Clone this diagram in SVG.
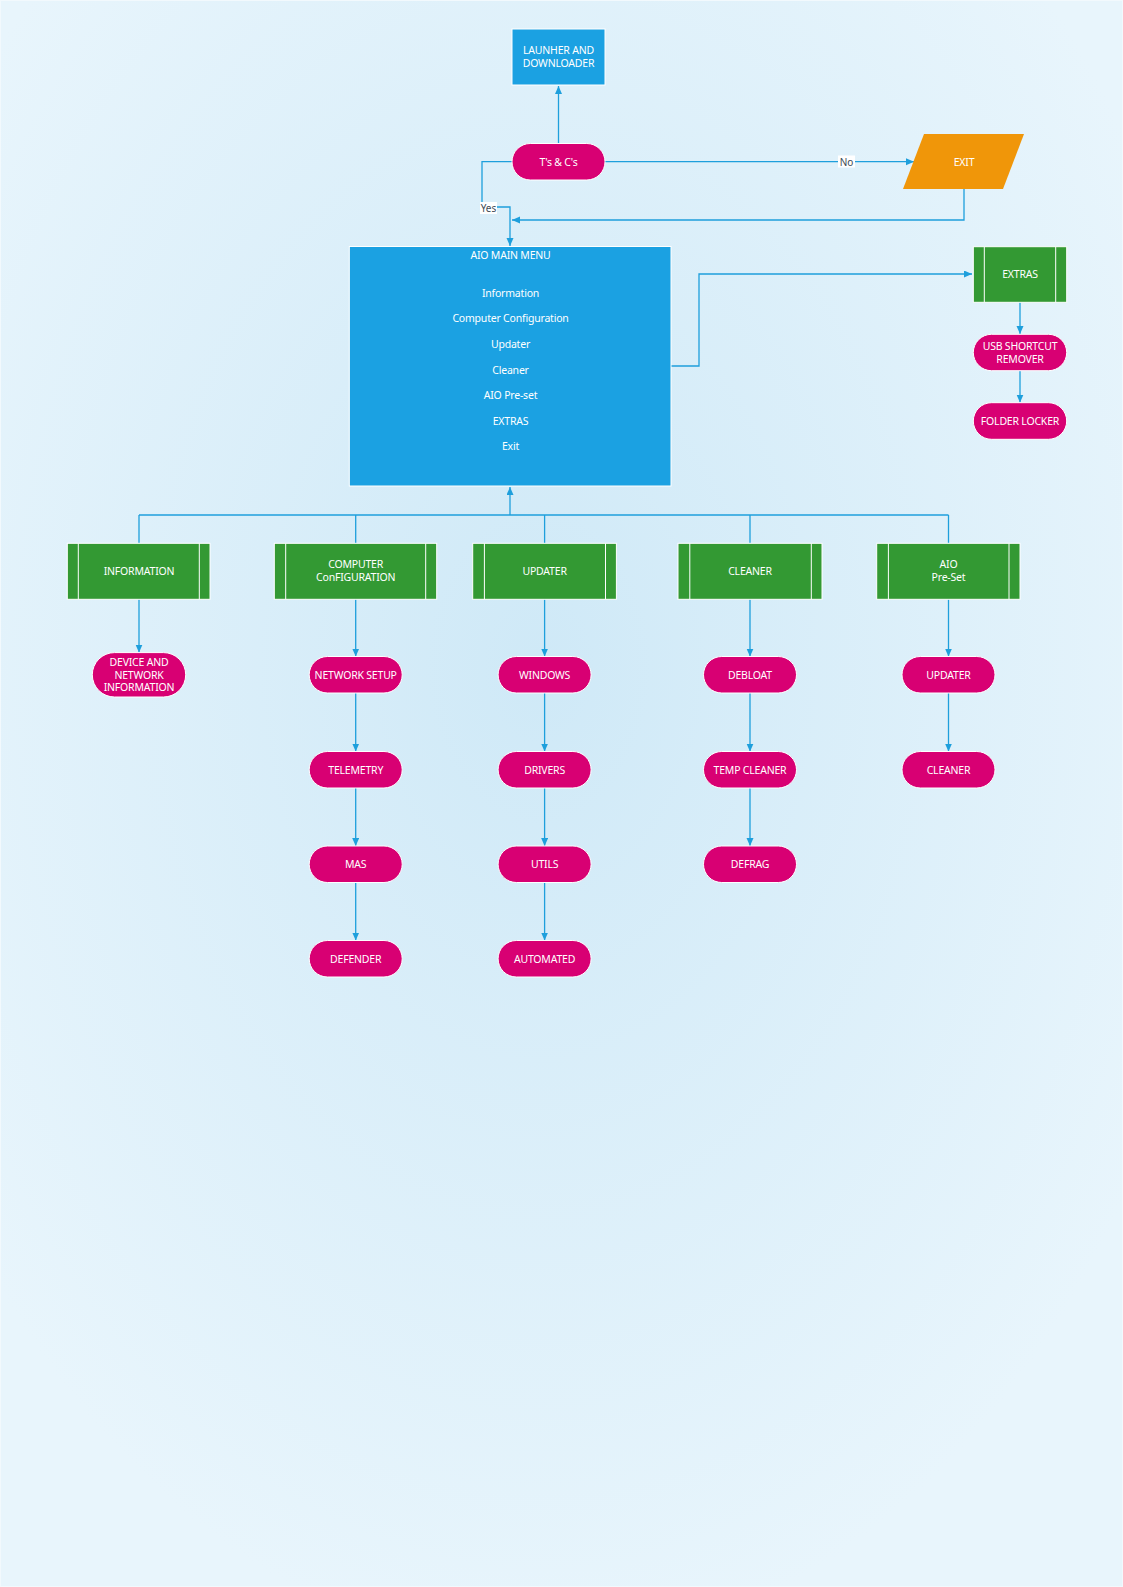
<svg xmlns="http://www.w3.org/2000/svg" width="1123" height="1587" viewBox="0 0 1123 1587">
  <defs>
    <radialGradient id="bg" cx="48%" cy="42%" r="62%">
      <stop offset="0" stop-color="#cfe9f7"/>
      <stop offset="1" stop-color="#e8f5fc"/>
    </radialGradient>
    <marker id="arr" markerUnits="userSpaceOnUse" markerWidth="9" markerHeight="8" refX="8" refY="3.5" orient="auto">
      <path d="M0,0 L8,3.5 L0,7 z" fill="#1e9fdc"/>
    </marker>
    <style>
      .t { font-family: "Noto Sans", "Open Sans", sans-serif; font-size: 10.5px; fill: #ffffff; text-anchor: middle; dominant-baseline: central; letter-spacing: -0.2px; }
      .lbl { font-family: "Noto Sans", "Open Sans", sans-serif; font-size: 10px; fill: #3c4a55; text-anchor: middle; dominant-baseline: central; }
      .blue { fill: #1ba1e2; stroke: #ffffff; stroke-width: 1; }
      .pill { fill: #d80073; stroke: #ffffff; stroke-width: 1; }
      .green { fill: #339933; stroke: #ffffff; stroke-width: 1; }
      .bar { stroke: #ffffff; stroke-width: 1; }
      .orange { fill: #f09609; }
      .c { fill: none; stroke: #1e9fdc; stroke-width: 1.3; }
      .ca { fill: none; stroke: #1e9fdc; stroke-width: 1.3; marker-end: url(#arr); }
    </style>
  </defs>

  <rect x="0" y="0" width="1123" height="1587" fill="url(#bg)"/>
  <rect x="0.5" y="0.5" width="1122" height="1586" fill="none" stroke="#f2f9fd" stroke-width="1"/>

  <!-- connectors -->
  <g id="connectors">
    <path class="ca" d="M558.5,143.5 V86"/>
    <path class="ca" d="M605,161.7 H914"/>
    <path class="ca" d="M964,189 V220 H512"/>
    <path class="ca" d="M512,161.7 H482 V207 H510 V246"/>
    <path class="ca" d="M671,366 H699 V274 H972"/>
    <path class="ca" d="M1020,302 V334"/>
    <path class="ca" d="M1020,371 V402.5"/>
    <!-- bus under the main menu -->
    <path class="c" d="M139,515 H948.5"/>
    <path class="ca" d="M510,515 V487"/>
    <path class="c" d="M139,515 V543.3"/>
    <path class="c" d="M355.7,515 V543.3"/>
    <path class="c" d="M544.6,515 V543.3"/>
    <path class="c" d="M750,515 V543.3"/>
    <path class="c" d="M948.5,515 V543.3"/>
    <!-- information -->
    <path class="ca" d="M139,599.3 V652.5"/>
    <!-- computer configuration -->
    <path class="ca" d="M355.7,599.3 V656.5"/>
    <path class="ca" d="M355.7,693 V751.5"/>
    <path class="ca" d="M355.7,788 V846"/>
    <path class="ca" d="M355.7,882.5 V940.5"/>
    <!-- updater -->
    <path class="ca" d="M544.6,599.3 V656.5"/>
    <path class="ca" d="M544.6,693 V751.5"/>
    <path class="ca" d="M544.6,788 V846"/>
    <path class="ca" d="M544.6,882.5 V940.5"/>
    <!-- cleaner -->
    <path class="ca" d="M750,599.3 V656.5"/>
    <path class="ca" d="M750,693 V751.5"/>
    <path class="ca" d="M750,788 V846"/>
    <!-- aio pre-set -->
    <path class="ca" d="M948.5,599.3 V656.5"/>
    <path class="ca" d="M948.5,693 V751.5"/>
    <!-- labels -->
    <rect x="838" y="155.5" width="17" height="12" fill="#ffffff"/>
    <text class="lbl" x="846.5" y="161.5">No</text>
    <rect x="480" y="202" width="17" height="12" fill="#ffffff"/>
    <text class="lbl" x="488.5" y="208">Yes</text>
  </g>

  <g id="launcher">
    <rect class="blue" x="512" y="29" width="93" height="56"/>
    <text class="t" x="558.5" y="50">LAUNHER AND</text>
    <text class="t" x="558.5" y="63">DOWNLOADER</text>
  </g>

  <g id="terms">
    <rect class="pill" x="512" y="143.5" width="93" height="36.5" rx="18.25"/>
    <text class="t" x="558.5" y="161.7">T's &amp; C's</text>
  </g>

  <g id="exit">
    <polygon class="orange" points="924,134 1024,134 1003,189 903,189"/>
    <text class="t" x="964" y="161.5">EXIT</text>
  </g>

  <g id="main-menu">
    <rect class="blue" x="349.3" y="246.5" width="321.7" height="239.5"/>
    <text class="t" x="510.5" y="255">AIO MAIN MENU</text>
    <text class="t" x="510.5" y="293.3">Information</text>
    <text class="t" x="510.5" y="318.3">Computer Configuration</text>
    <text class="t" x="510.5" y="344">Updater</text>
    <text class="t" x="510.5" y="370">Cleaner</text>
    <text class="t" x="510.5" y="395">AIO Pre-set</text>
    <text class="t" x="510.5" y="421">EXTRAS</text>
    <text class="t" x="510.5" y="446">Exit</text>
  </g>

  <g id="extras">
    <rect class="green" x="973.3" y="246.7" width="93.4" height="55.6"/>
    <line class="bar" x1="984.3" y1="246.7" x2="984.3" y2="302.3"/>
    <line class="bar" x1="1055.7" y1="246.7" x2="1055.7" y2="302.3"/>
    <text class="t" x="1020" y="274">EXTRAS</text>
  </g>
  <g id="usb-shortcut-remover">
    <rect class="pill" x="973.3" y="334.3" width="93.4" height="36.4" rx="18.2"/>
    <text class="t" x="1020" y="346.3">USB SHORTCUT</text>
    <text class="t" x="1020" y="358.5">REMOVER</text>
  </g>
  <g id="folder-locker">
    <rect class="pill" x="973.3" y="402.7" width="93.4" height="36.6" rx="18.3"/>
    <text class="t" x="1020" y="421">FOLDER LOCKER</text>
  </g>

  <!-- second tier -->
  <g id="information">
    <rect class="green" x="67.3" y="543.3" width="142.7" height="56"/>
    <line class="bar" x1="78.3" y1="543.3" x2="78.3" y2="599.3"/>
    <line class="bar" x1="199.3" y1="543.3" x2="199.3" y2="599.3"/>
    <text class="t" x="139" y="570.7">INFORMATION</text>
  </g>
  <g id="device-network-information">
    <rect class="pill" x="92.3" y="652.6" width="93.4" height="44.4" rx="22.2"/>
    <text class="t" x="139" y="662.3">DEVICE AND</text>
    <text class="t" x="139" y="674.8">NETWORK</text>
    <text class="t" x="139" y="687.3">INFORMATION</text>
  </g>

  <g id="computer-configuration">
    <rect class="green" x="274.3" y="543.3" width="162.4" height="56"/>
    <line class="bar" x1="285.7" y1="543.3" x2="285.7" y2="599.3"/>
    <line class="bar" x1="425.7" y1="543.3" x2="425.7" y2="599.3"/>
    <text class="t" x="355.7" y="564">COMPUTER</text>
    <text class="t" x="355.7" y="577.3">ConFIGURATION</text>
  </g>
  <g id="network-setup">
    <rect class="pill" x="309.2" y="656.5" width="93" height="36.5" rx="18.25"/>
    <text class="t" x="355.7" y="675">NETWORK SETUP</text>
  </g>
  <g id="telemetry">
    <rect class="pill" x="309.2" y="751.5" width="93" height="36.5" rx="18.25"/>
    <text class="t" x="355.7" y="769.7">TELEMETRY</text>
  </g>
  <g id="mas">
    <rect class="pill" x="309.2" y="846" width="93" height="36.5" rx="18.25"/>
    <text class="t" x="355.7" y="864.2">MAS</text>
  </g>
  <g id="defender">
    <rect class="pill" x="309.2" y="940.5" width="93" height="36.5" rx="18.25"/>
    <text class="t" x="355.7" y="958.7">DEFENDER</text>
  </g>

  <g id="updater">
    <rect class="green" x="472.7" y="543.3" width="143.7" height="56"/>
    <line class="bar" x1="484.4" y1="543.3" x2="484.4" y2="599.3"/>
    <line class="bar" x1="605.5" y1="543.3" x2="605.5" y2="599.3"/>
    <text class="t" x="544.6" y="570.7">UPDATER</text>
  </g>
  <g id="windows">
    <rect class="pill" x="498.1" y="656.5" width="93" height="36.5" rx="18.25"/>
    <text class="t" x="544.6" y="675">WINDOWS</text>
  </g>
  <g id="drivers">
    <rect class="pill" x="498.1" y="751.5" width="93" height="36.5" rx="18.25"/>
    <text class="t" x="544.6" y="769.7">DRIVERS</text>
  </g>
  <g id="utils">
    <rect class="pill" x="498.1" y="846" width="93" height="36.5" rx="18.25"/>
    <text class="t" x="544.6" y="864.2">UTILS</text>
  </g>
  <g id="automated">
    <rect class="pill" x="498.1" y="940.5" width="93" height="36.5" rx="18.25"/>
    <text class="t" x="544.6" y="958.7">AUTOMATED</text>
  </g>

  <g id="cleaner">
    <rect class="green" x="678" y="543.3" width="144" height="56"/>
    <line class="bar" x1="689.8" y1="543.3" x2="689.8" y2="599.3"/>
    <line class="bar" x1="811.3" y1="543.3" x2="811.3" y2="599.3"/>
    <text class="t" x="750" y="570.7">CLEANER</text>
  </g>
  <g id="debloat">
    <rect class="pill" x="703.5" y="656.5" width="93" height="36.5" rx="18.25"/>
    <text class="t" x="750" y="675">DEBLOAT</text>
  </g>
  <g id="temp-cleaner">
    <rect class="pill" x="703.5" y="751.5" width="93" height="36.5" rx="18.25"/>
    <text class="t" x="750" y="769.7">TEMP CLEANER</text>
  </g>
  <g id="defrag">
    <rect class="pill" x="703.5" y="846" width="93" height="36.5" rx="18.25"/>
    <text class="t" x="750" y="864.2">DEFRAG</text>
  </g>

  <g id="aio-preset">
    <rect class="green" x="876.7" y="543.3" width="143.3" height="56"/>
    <line class="bar" x1="888.4" y1="543.3" x2="888.4" y2="599.3"/>
    <line class="bar" x1="1009" y1="543.3" x2="1009" y2="599.3"/>
    <text class="t" x="948.5" y="564">AIO</text>
    <text class="t" x="948.5" y="577.3">Pre-Set</text>
  </g>
  <g id="preset-updater">
    <rect class="pill" x="902" y="656.5" width="93" height="36.5" rx="18.25"/>
    <text class="t" x="948.5" y="675">UPDATER</text>
  </g>
  <g id="preset-cleaner">
    <rect class="pill" x="902" y="751.5" width="93" height="36.5" rx="18.25"/>
    <text class="t" x="948.5" y="769.7">CLEANER</text>
  </g>
</svg>
